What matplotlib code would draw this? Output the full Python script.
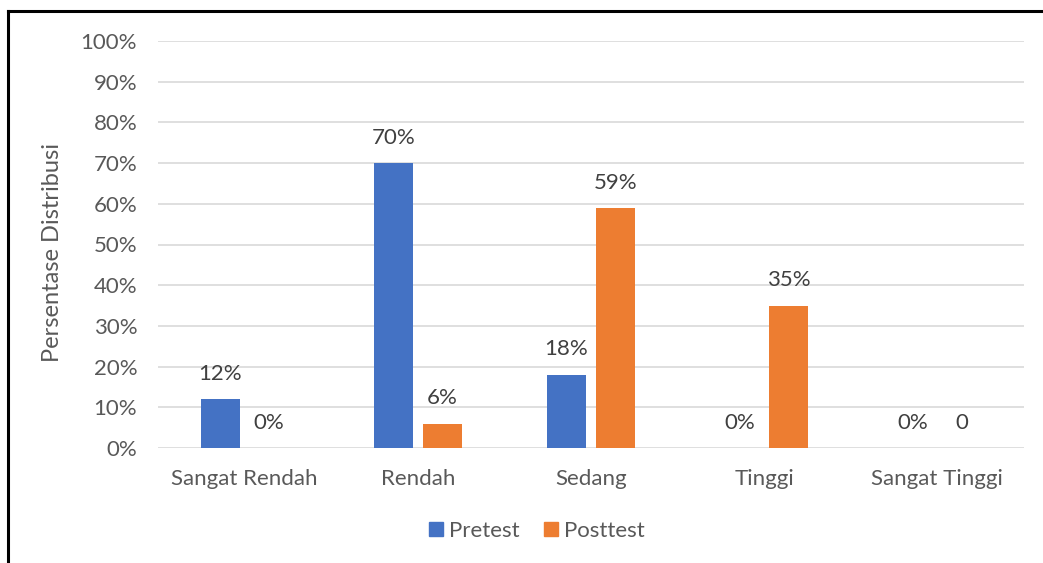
import matplotlib
matplotlib.use("Agg")
import matplotlib.pyplot as plt
from matplotlib.lines import Line2D
import numpy as np

categories = ["Sangat Rendah", "Rendah", "Sedang", "Tinggi", "Sangat Tinggi"]
pretest = [12, 70, 18, 0, 0]
posttest = [0, 6, 59, 35, 0]
pretest_labels = ["12%", "70%", "18%", "0%", "0%"]
posttest_labels = ["0%", "6%", "59%", "35%", "0"]
yticks = list(range(0, 101, 10))

blue = "#4472C4"
orange = "#ED7D31"
text_gray = "#595959"

plt.rcParams["font.family"] = ["Lato", "DejaVu Sans"]

W, H = 1043, 563
fig = plt.figure(figsize=(W / 100, H / 100), dpi=100)
ax = fig.add_axes([158 / W, 1 - 448 / H, (1024 - 158) / W, (448 - 41) / H])

x = np.arange(len(categories))
bw = 0.225
off = 0.1415
b1 = ax.bar(x - off, pretest, bw, color=blue, label="Pretest", zorder=3)
b2 = ax.bar(x + off, posttest, bw, color=orange, label="Posttest", zorder=3)

for bars, labels in ((b1, pretest_labels), (b2, posttest_labels)):
    for rect, lab in zip(bars, labels):
        ax.annotate(lab, (rect.get_x() + rect.get_width() / 2, rect.get_height()),
                    xytext=(0, 11), textcoords="offset points", ha="center", va="bottom",
                    fontsize=16, color="#404040")

ax.set_xlim(-0.5, len(categories) - 0.5)
ax.set_ylim(0, 100)
ax.set_yticks(yticks)
ax.set_yticklabels([f"{v}%" for v in yticks])
ax.set_xticks(x)
ax.set_xticklabels(categories)
ax.tick_params(axis="both", length=0, labelsize=16, colors=text_gray)
ax.tick_params(axis="y", pad=15)
ax.tick_params(axis="x", pad=15)
ax.grid(axis="y", color="#D9D9D9", linewidth=1.2, zorder=0)
for s in ax.spines.values():
    s.set_visible(False)
ax.set_ylabel("Persentase Distribusi", fontsize=17, color=text_gray)
ax.yaxis.set_label_coords((63 - 158) / (1024 - 158), (448 - 253) / (448 - 41))

handles = [Line2D([], [], marker="s", linestyle="none", markersize=10, color=blue),
           Line2D([], [], marker="s", linestyle="none", markersize=10, color=orange)]
fig.legend(handles, ["Pretest", "Posttest"], loc="center", bbox_to_anchor=(536 / W, 1 - 531 / H),
           ncol=2, frameon=False, fontsize=16, labelcolor=text_gray,
           handletextpad=0.2, columnspacing=1.0, handlelength=0.8)

# outer frame (left and top edges)
fig.add_artist(Line2D([8 / W, 8 / W], [0, 1 - 11 / H], color="black", linewidth=2.2,
                      transform=fig.transFigure))
fig.add_artist(Line2D([8 / W, 1], [1 - 11 / H, 1 - 11 / H], color="black", linewidth=2.2,
                      transform=fig.transFigure))

fig.savefig("out.png", dpi=100, facecolor="white")
